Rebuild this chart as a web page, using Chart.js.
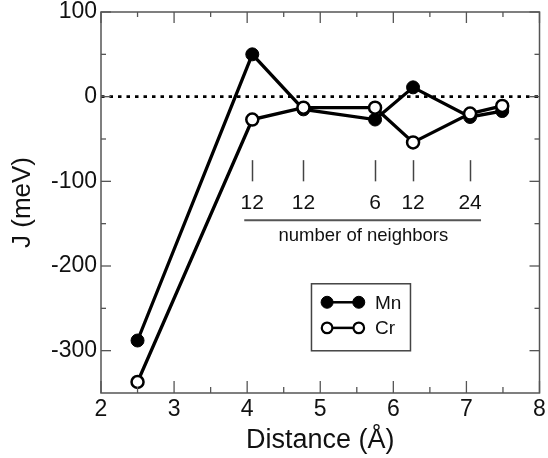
<!DOCTYPE html>
<html><head><meta charset="utf-8">
<script src="https://cdn.jsdelivr.net/npm/chart.js@4/dist/chart.umd.min.js"></script>
<style>html,body{margin:0;padding:0;background:#fff}</style>
</head><body><canvas id="c" width="548" height="458"></canvas>
<script>
// ---- data ----
const distances = [2.5, 4.07, 4.77, 5.75, 6.27, 7.05, 7.49];
const mnJ = [-288, 50, -15, -27, 11, -24, -17];
const crJ = [-337, -27, -13, -13, -54, -20, -11];
const seriesNames = ['Mn', 'Cr'];
const neighborDistances = [4.07, 4.77, 5.75, 6.27, 7.05];
const neighborCounts = ['12', '12', '6', '12', '24'];
const neighborCaption = 'number of neighbors';
const xTickValues = [2, 3, 4, 5, 6, 7, 8];
const yTickValues = [-300, -200, -100, 0, 100];
const xMinorTickValues = [2.5, 3.5, 4.5, 5.5, 6.5, 7.5];
const yMinorTickValues = [-250, -150, -50, 50];
const xTitle = 'Distance (Å)';
const yTitle = 'J (meV)';

const FONT = '"Liberation Sans", Arial, Helvetica, sans-serif';
Chart.defaults.font.family = FONT;
Chart.defaults.color = '#111';

const decor = {
  id: 'decor',
  beforeDatasetsDraw(chart) {
    const {ctx, chartArea: a, scales: {x, y}} = chart;
    ctx.save();
    // zero reference line
    const y0 = y.getPixelForValue(0);
    ctx.strokeStyle = '#000'; ctx.lineWidth = 2.6; ctx.setLineDash([3.5, 5]);
    ctx.beginPath(); ctx.moveTo(a.left, y0); ctx.lineTo(a.right, y0); ctx.stroke();
    ctx.setLineDash([]);
    // neighbor marks
    ctx.strokeStyle = '#444'; ctx.lineWidth = 1.5;
    neighborDistances.forEach(d => {
      const px = Math.round(x.getPixelForValue(d)) + 0.5;
      ctx.beginPath(); ctx.moveTo(px, y.getPixelForValue(-75)); ctx.lineTo(px, y.getPixelForValue(-100)); ctx.stroke();
    });
    ctx.fillStyle = '#111'; ctx.font = '21px ' + FONT; ctx.textAlign = 'center'; ctx.textBaseline = 'middle';
    neighborDistances.forEach((d, i) => ctx.fillText(neighborCounts[i], x.getPixelForValue(d), y.getPixelForValue(-126)));
    ctx.strokeStyle = '#555'; ctx.lineWidth = 2;
    const uy = y.getPixelForValue(-146);
    ctx.beginPath(); ctx.moveTo(x.getPixelForValue(3.96), uy); ctx.lineTo(x.getPixelForValue(7.2), uy); ctx.stroke();
    ctx.font = '18.5px ' + FONT;
    ctx.fillText(neighborCaption, x.getPixelForValue(5.59), y.getPixelForValue(-165));
    ctx.restore();
  },
  afterDraw(chart) {
    const {ctx, chartArea: a, scales: {x, y}} = chart;
    ctx.save();
    // frame
    ctx.strokeStyle = '#555'; ctx.lineWidth = 1.5;
    ctx.strokeRect(a.left, a.top, a.right - a.left, a.bottom - a.top);
    // inward ticks
    const tick = (x1, y1, x2, y2) => { ctx.beginPath(); ctx.moveTo(x1, y1); ctx.lineTo(x2, y2); ctx.stroke(); };
    ctx.lineWidth = 1.3;
    xTickValues.forEach(v => { const p = x.getPixelForValue(v); tick(p, a.bottom, p, a.bottom - 12); tick(p, a.top, p, a.top + 11); });
    xMinorTickValues.forEach(v => { const p = x.getPixelForValue(v); tick(p, a.bottom, p, a.bottom - 6); tick(p, a.top, p, a.top + 5); });
    yTickValues.forEach(v => { const p = y.getPixelForValue(v); tick(a.left, p, a.left + 10, p); tick(a.right, p, a.right - 10, p); });
    yMinorTickValues.forEach(v => { const p = y.getPixelForValue(v); tick(a.left, p, a.left + 5, p); tick(a.right, p, a.right - 5, p); });
    // legend
    const lx = x.getPixelForValue(4.88), ly = y.getPixelForValue(-221);
    const lw = 99, lh = 67;
    ctx.strokeStyle = '#444'; ctx.lineWidth = 1.5;
    ctx.strokeRect(lx, ly, lw, lh);
    const rows = [{name: seriesNames[0], fill: '#000'}, {name: seriesNames[1], fill: '#fff'}];
    rows.forEach((r, i) => {
      const cy = ly + 18.5 + i * 25.6;
      const m1 = lx + 15.6, m2 = lx + 47.3;
      ctx.strokeStyle = '#000'; ctx.lineWidth = 2.5;
      ctx.beginPath(); ctx.moveTo(m1, cy); ctx.lineTo(m2, cy); ctx.stroke();
      [m1, m2].forEach(mx => {
        ctx.beginPath(); ctx.arc(mx, cy, r.fill === '#000' ? 6 : 5.3, 0, Math.PI * 2);
        ctx.fillStyle = r.fill; ctx.fill(); ctx.lineWidth = r.fill === '#000' ? 1 : 2.2; ctx.stroke();
      });
      ctx.fillStyle = '#111'; ctx.font = '19px ' + FONT; ctx.textAlign = 'left'; ctx.textBaseline = 'middle';
      ctx.fillText(r.name, lx + 63.5, cy + 1);
    });
    ctx.restore();
  }
};

new Chart(document.getElementById('c'), {
  type: 'line',
  data: {
    datasets: [
      {label: seriesNames[0], data: distances.map((d, i) => ({x: d, y: mnJ[i]})), order: 1,
       borderColor: '#000', borderWidth: 3.3, pointRadius: 6.5, pointBackgroundColor: '#000', pointBorderColor: '#000', pointBorderWidth: 1, tension: 0},
      {label: seriesNames[1], data: distances.map((d, i) => ({x: d, y: crJ[i]})), order: 0,
       borderColor: '#000', borderWidth: 3.3, pointRadius: 6, pointBackgroundColor: '#fff', pointBorderColor: '#000', pointBorderWidth: 2.5, tension: 0}
    ]
  },
  options: {
    responsive: false, animation: false, devicePixelRatio: 1,
    layout: {padding: {top: 12, right: 6, left: 0, bottom: 0}},
    plugins: {legend: {display: false}, tooltip: {enabled: false}},
    scales: {
      x: {
        type: 'linear', min: 2, max: 8,
        afterBuildTicks: s => { s.ticks = xTickValues.map(v => ({value: v})); },
        afterFit: s => { s.height = 65; s.paddingLeft = 0; s.paddingRight = 0; },
        grid: {display: false, drawTicks: false}, border: {display: false},
        ticks: {padding: 5, font: {size: 23, lineHeight: 1}, color: '#111', callback: v => String(v), maxRotation: 0},
        title: {display: true, text: xTitle, font: {size: 27, lineHeight: 1.2}, color: '#111', padding: {top: 0, bottom: 1}}
      },
      y: {
        type: 'linear', min: -350, max: 100,
        afterBuildTicks: s => { s.ticks = yTickValues.map(v => ({value: v})); },
        afterFit: s => { s.width = 101; s.paddingTop = 0; s.paddingBottom = 0; },
        grid: {display: false, drawTicks: false}, border: {display: false},
        ticks: {padding: 4, font: {size: 23, lineHeight: 1}, color: '#111', callback: v => String(v)},
        title: {display: true, text: yTitle, font: {size: 26, lineHeight: 1.2}, color: '#111', padding: {top: 7, bottom: 0}}
      }
    }
  },
  plugins: [decor]
});
</script></body></html>
